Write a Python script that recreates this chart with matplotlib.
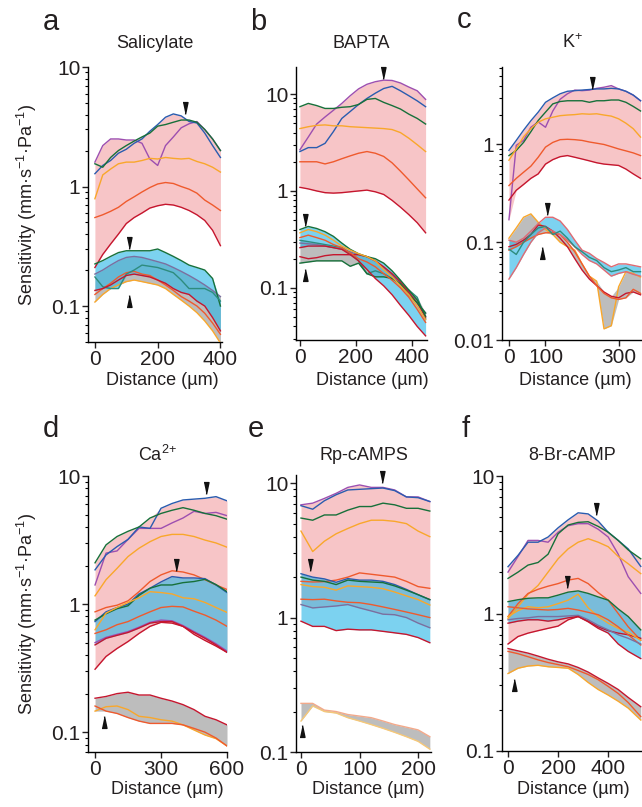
import numpy as np
import matplotlib.pyplot as plt
from matplotlib.ticker import FixedLocator, LogLocator, NullFormatter, FuncFormatter

plt.rcParams['font.family'] = ['Liberation Sans', 'DejaVu Sans']
plt.rcParams['mathtext.default'] = 'regular'

PURPLE = '#9d4fb0'
BLUE = '#2a5caf'
GREEN = '#17703a'
ORANGE = '#f9a72b'
ORANGERED = '#ef5a2d'
RED = '#c5162e'
GRAPE = '#7b6f9f'
TEAL = '#2e8c7e'
SALMON = '#e06a72'
PALE_ORANGE = '#f3a98a'
PALE_YELLOW = '#f6c878'

PINK = '#f7c5c7'
GREY = '#bdbdbd'
CYAN = '#2cb7e7'

# ---------------- a: Salicylate ----------------
a_x = [0, 25, 50, 75, 100, 125, 150, 175, 200, 225, 250, 275, 300, 325, 350, 375, 400]
a_purple = [1.6, 2.2, 2.5, 2.5, 2.45, 2.45, 2.3, 1.7, 1.5, 2.2, 2.6, 3.1, 3.35, 3.5, 3.0, 2.5, 2.0]
a_blue = [1.28, 1.5, 1.65, 1.9, 2.05, 2.3, 2.5, 2.9, 3.3, 3.8, 4.05, 3.9, 3.5, 3.4, 2.8, 2.2, 1.75]
a_green = [1.55, 1.45, 1.75, 2.0, 2.2, 2.4, 2.6, 2.8, 3.2, 3.3, 3.45, 3.6, 3.6, 3.45, 3.0, 2.5, 2.0]
a_orange = [0.79, 1.25, 1.4, 1.55, 1.6, 1.6, 1.65, 1.72, 1.7, 1.75, 1.72, 1.7, 1.72, 1.62, 1.55, 1.45, 1.32]
a_orangered = [0.55, 0.58, 0.62, 0.67, 0.75, 0.82, 0.9, 0.98, 1.05, 1.08, 1.06, 1.0, 0.95, 0.88, 0.77, 0.7, 0.63]
a_red = [0.21, 0.27, 0.33, 0.4, 0.49, 0.55, 0.6, 0.66, 0.69, 0.71, 0.7, 0.67, 0.63, 0.58, 0.52, 0.43, 0.32]
a_c_green = [0.225, 0.24, 0.26, 0.28, 0.29, 0.29, 0.29, 0.29, 0.3, 0.28, 0.26, 0.24, 0.22, 0.21, 0.2, 0.17, 0.1]
a_c_teal = [0.175, 0.145, 0.14, 0.14, 0.185, 0.2, 0.22, 0.215, 0.21, 0.2, 0.19, 0.165, 0.14, 0.14, 0.14, 0.13, 0.11]
a_c_red = [0.135, 0.14, 0.15, 0.165, 0.18, 0.185, 0.18, 0.175, 0.165, 0.155, 0.14, 0.13, 0.125, 0.11, 0.1, 0.08, 0.062]
a_g_grape = [0.185, 0.2, 0.22, 0.24, 0.255, 0.26, 0.255, 0.245, 0.235, 0.225, 0.21, 0.195, 0.18, 0.165, 0.15, 0.135, 0.12]
a_g_orangered = [0.125, 0.14, 0.155, 0.175, 0.19, 0.195, 0.185, 0.18, 0.165, 0.15, 0.135, 0.12, 0.11, 0.1, 0.087, 0.072, 0.058]
a_g_orange = [0.108, 0.125, 0.14, 0.15, 0.16, 0.165, 0.16, 0.155, 0.15, 0.14, 0.125, 0.112, 0.1, 0.088, 0.075, 0.062, 0.049]
a_down = ([286, 108], [4.5, 0.34])
a_up = ([108], [0.11])

# ---------------- b: BAPTA ----------------
b_x = [0, 30, 60, 90, 120, 150, 180, 210, 240, 270, 300, 330, 360, 390, 420, 450]
b_purple = [2.66, 3.6, 4.9, 5.8, 6.8, 8.0, 9.6, 11.3, 12.6, 13.4, 13.9, 13.8, 13.0, 11.8, 10.8, 8.8]
b_blue = [2.55, 2.8, 2.8, 3.1, 4.1, 5.6, 6.6, 7.8, 9.0, 10.2, 11.4, 12.0, 10.8, 9.6, 8.5, 7.4]
b_green = [7.4, 8.0, 7.6, 7.1, 7.1, 7.3, 7.4, 7.8, 8.8, 9.0, 8.2, 7.6, 7.0, 6.2, 5.6, 4.9]
b_orange = [4.4, 4.6, 4.75, 4.8, 4.7, 4.7, 4.6, 4.55, 4.5, 4.45, 4.4, 4.3, 4.0, 3.5, 3.0, 2.55]
b_orangered = [2.0, 2.0, 2.0, 1.9, 2.0, 2.15, 2.3, 2.45, 2.55, 2.45, 2.27, 1.95, 1.6, 1.3, 1.05, 0.85]
b_red = [1.09, 1.05, 1.0, 0.96, 0.95, 0.96, 0.98, 1.0, 1.02, 0.98, 0.92, 0.8, 0.68, 0.57, 0.47, 0.37]
b_c_green = [0.40, 0.43, 0.41, 0.38, 0.34, 0.29, 0.25, 0.225, 0.21, 0.2, 0.18, 0.15, 0.12, 0.095, 0.075, 0.051]
b_c_orange = [0.37, 0.4, 0.38, 0.35, 0.31, 0.27, 0.245, 0.225, 0.21, 0.19, 0.155, 0.13, 0.105, 0.085, 0.065, 0.047]
b_c_orangered = [0.33, 0.35, 0.33, 0.31, 0.28, 0.26, 0.23, 0.2, 0.185, 0.165, 0.14, 0.12, 0.1, 0.08, 0.06, 0.044]
b_c_red = [0.26, 0.27, 0.27, 0.27, 0.26, 0.25, 0.22, 0.19, 0.155, 0.125, 0.105, 0.085, 0.066, 0.052, 0.04, 0.032]
b_g_grape = [0.29, 0.285, 0.28, 0.27, 0.26, 0.25, 0.235, 0.22, 0.21, 0.19, 0.16, 0.135, 0.11, 0.09, 0.07, 0.055]
b_g_teal = [0.31, 0.3, 0.29, 0.28, 0.27, 0.26, 0.23, 0.19, 0.14, 0.15, 0.14, 0.125, 0.11, 0.095, 0.08, 0.048]
b_g_red = [0.21, 0.2, 0.205, 0.215, 0.22, 0.22, 0.22, 0.22, 0.21, 0.19, 0.165, 0.14, 0.115, 0.09, 0.07, 0.05]
b_g_green = [0.18, 0.185, 0.19, 0.19, 0.19, 0.19, 0.167, 0.18, 0.14, 0.13, 0.13, 0.125, 0.11, 0.085, 0.07, 0.055]
b_down = ([296, 18], [16.6, 0.5])
b_up = ([18], [0.137])

# ---------------- c: K+ ----------------
c_x = [0, 20, 40, 60, 80, 100, 120, 140, 160, 180, 200, 220, 240, 260, 280, 300, 320, 340, 360]
c_blue = [0.87, 1.1, 1.4, 1.75, 2.14, 2.7, 3.0, 3.3, 3.5, 3.55, 3.6, 3.65, 3.7, 3.7, 3.75, 3.7, 3.5, 3.2, 2.8]
c_purple = [0.17, 0.98, 1.1, 1.5, 1.7, 1.5, 2.2, 2.9, 3.3, 3.6, 3.55, 3.6, 3.75, 3.85, 4.0, 3.7, 3.5, 3.2, 2.8]
c_green = [0.77, 0.87, 1.05, 1.35, 1.76, 2.14, 2.6, 2.75, 2.8, 2.8, 2.8, 2.7, 2.8, 2.8, 2.85, 2.85, 2.7, 2.45, 2.2]
c_orange = [0.69, 0.9, 1.2, 1.45, 1.69, 1.83, 1.9, 1.97, 2.0, 2.02, 2.06, 2.04, 2.06, 2.0, 1.95, 1.83, 1.65, 1.45, 1.19]
c_orangered = [0.38, 0.45, 0.52, 0.6, 0.74, 0.94, 1.05, 1.12, 1.13, 1.12, 1.1, 1.06, 1.03, 1.0, 0.95, 0.9, 0.86, 0.82, 0.77]
c_red = [0.27, 0.34, 0.39, 0.45, 0.5, 0.63, 0.7, 0.75, 0.77, 0.74, 0.71, 0.68, 0.65, 0.63, 0.62, 0.61, 0.56, 0.5, 0.45]
c_c_salmon_hi = [0.105, 0.1, 0.11, 0.13, 0.155, 0.18, 0.18, 0.165, 0.135, 0.105, 0.083, 0.077, 0.068, 0.062, 0.056, 0.06, 0.06, 0.058, 0.056]
c_c_salmon_lo = [0.042, 0.055, 0.075, 0.1, 0.125, 0.14, 0.13, 0.12, 0.105, 0.09, 0.075, 0.065, 0.06, 0.052, 0.045, 0.048, 0.05, 0.047, 0.045]
c_c_teal = [0.085, 0.075, 0.1, 0.12, 0.14, 0.145, 0.12, 0.13, 0.11, 0.09, 0.08, 0.07, 0.065, 0.055, 0.05, 0.052, 0.055, 0.05, 0.05]
c_g_orange = [0.11, 0.14, 0.18, 0.195, 0.16, 0.135, 0.12, 0.1, 0.09, 0.083, 0.06, 0.045, 0.04, 0.013, 0.014, 0.035, 0.05, 0.048, 0.044]
c_g_red = [0.09, 0.095, 0.105, 0.12, 0.15, 0.145, 0.13, 0.11, 0.09, 0.068, 0.052, 0.042, 0.036, 0.031, 0.028, 0.027, 0.03, 0.031, 0.029]
c_g_orangered = [0.083, 0.09, 0.1, 0.11, 0.12, 0.125, 0.125, 0.12, 0.1, 0.08, 0.06, 0.045, 0.036, 0.03, 0.027, 0.026, 0.027, 0.033, 0.03]
c_down = ([227, 103], [4.3, 0.22])
c_up = ([91], [0.077])

# ---------------- d: Ca2+ ----------------
d_x = [0, 50, 100, 150, 200, 250, 300, 350, 400, 450, 500, 550, 600]
d_blue = [1.85, 2.42, 2.81, 3.2, 4.0, 3.9, 5.6, 6.1, 6.5, 6.6, 6.7, 6.9, 6.4]
d_green = [2.1, 2.9, 3.37, 3.7, 4.0, 4.7, 5.1, 5.4, 5.66, 5.4, 5.1, 4.9, 4.6]
d_purple = [1.41, 2.5, 2.6, 3.2, 3.9, 3.9, 3.9, 4.3, 4.7, 5.3, 5.1, 5.2, 4.9]
d_orange = [1.16, 1.55, 1.9, 2.35, 2.73, 3.07, 3.37, 3.5, 3.5, 3.37, 3.16, 3.0, 2.78]
d_orangered = [0.87, 0.94, 0.98, 1.06, 1.25, 1.5, 1.69, 1.82, 1.78, 1.69, 1.55, 1.41, 1.3]
d_red = [0.31, 0.39, 0.45, 0.51, 0.59, 0.67, 0.72, 0.71, 0.67, 0.58, 0.52, 0.47, 0.42]
d_c_blue = [0.73, 0.87, 0.94, 1.0, 1.2, 1.33, 1.49, 1.64, 1.6, 1.6, 1.58, 1.41, 1.23]
d_c_green = [0.75, 0.84, 0.92, 0.97, 1.17, 1.33, 1.41, 1.41, 1.47, 1.5, 1.56, 1.42, 1.25]
d_c_orange = [0.63, 0.85, 0.94, 1.03, 1.12, 1.25, 1.23, 1.2, 1.12, 1.1, 1.03, 0.94, 0.86]
d_c_orangered = [0.59, 0.63, 0.69, 0.73, 0.8, 0.87, 0.94, 0.96, 0.95, 0.88, 0.82, 0.75, 0.67]
d_c_purple = [0.5, 0.55, 0.58, 0.61, 0.66, 0.72, 0.75, 0.74, 0.68, 0.61, 0.55, 0.49, 0.43]
d_c_red = [0.48, 0.54, 0.57, 0.6, 0.65, 0.71, 0.73, 0.73, 0.67, 0.6, 0.54, 0.48, 0.42]
d_g_red = [0.184, 0.19, 0.2, 0.205, 0.195, 0.195, 0.184, 0.175, 0.164, 0.15, 0.133, 0.125, 0.114]
d_g_orange = [0.146, 0.158, 0.16, 0.15, 0.133, 0.13, 0.125, 0.122, 0.114, 0.104, 0.095, 0.089, 0.078]
d_g_orangered = [0.16, 0.146, 0.14, 0.13, 0.122, 0.117, 0.117, 0.117, 0.114, 0.107, 0.1, 0.09, 0.078]
d_down = ([505, 368], [8.0, 2.02])
d_up = ([43], [0.121])

# ---------------- e: Rp-cAMPS ----------------
e_x = [0, 20, 40, 60, 80, 100, 120, 140, 160, 180, 200, 220]
e_purple = [6.9, 7.1, 7.7, 8.4, 9.3, 9.7, 9.3, 9.3, 8.9, 7.9, 7.9, 7.3]
e_blue = [6.8, 6.4, 7.4, 8.2, 8.9, 9.0, 9.1, 9.2, 8.8, 7.9, 7.8, 7.3]
e_green = [5.5, 5.3, 5.8, 5.8, 6.3, 6.7, 6.7, 7.1, 6.9, 6.5, 6.5, 6.2]
e_orange = [4.4, 3.1, 3.7, 4.2, 4.6, 5.0, 5.3, 5.3, 5.2, 5.0, 4.4, 4.0]
e_orangered = [1.86, 1.84, 1.85, 1.9, 2.0, 2.15, 2.1, 2.05, 2.0, 1.86, 1.7, 1.65]
e_grape = [1.25, 1.18, 1.2, 1.22, 1.25, 1.18, 1.12, 1.06, 1.05, 1.0, 0.91, 0.84]
e_c_blue = [2.12, 2.0, 1.94, 1.83, 1.95, 1.9, 1.9, 1.86, 1.76, 1.62, 1.48, 1.36]
e_c_green = [2.0, 1.9, 1.86, 1.76, 1.9, 1.86, 1.84, 1.82, 1.72, 1.6, 1.48, 1.36]
e_c_orange = [1.76, 1.7, 1.68, 1.6, 1.72, 1.7, 1.68, 1.64, 1.55, 1.45, 1.36, 1.24]
e_c_orangered = [1.37, 1.36, 1.37, 1.33, 1.3, 1.29, 1.25, 1.2, 1.15, 1.1, 1.05, 1.0]
e_c_red = [0.94, 0.86, 0.86, 0.8, 0.82, 0.81, 0.81, 0.79, 0.77, 0.75, 0.71, 0.65]
e_g_top = [0.23, 0.23, 0.205, 0.2, 0.19, 0.185, 0.18, 0.17, 0.16, 0.153, 0.146, 0.13]
e_g_bottom = [0.17, 0.22, 0.2, 0.195, 0.18, 0.17, 0.16, 0.15, 0.14, 0.13, 0.12, 0.105]
e_down = ([139, 15], [11.1, 2.47])
e_up = ([2], [0.143])

# ---------------- f: 8-Br-cAMP ----------------
f_x = [0, 40, 80, 120, 160, 200, 240, 280, 320, 360, 400, 440, 480, 530]
f_blue = [2.19, 2.65, 3.3, 3.3, 3.6, 4.2, 4.8, 5.4, 5.3, 4.7, 3.9, 3.4, 2.95, 2.2]
f_purple = [2.0, 2.6, 3.4, 3.4, 3.3, 3.9, 4.35, 4.5, 4.5, 4.1, 3.6, 2.7, 1.85, 1.4]
f_green = [1.8, 2.0, 2.25, 2.35, 2.7, 3.8, 4.4, 4.6, 4.65, 4.3, 3.9, 3.4, 2.9, 2.5]
f_orange = [0.92, 1.12, 1.38, 1.6, 2.0, 2.5, 2.95, 3.3, 3.5, 3.3, 3.06, 2.6, 2.3, 1.95]
f_orangered = [0.95, 1.18, 1.4, 1.5, 1.58, 1.65, 1.75, 1.8, 1.65, 1.42, 1.25, 1.0, 0.8, 0.64]
f_red = [0.6, 0.68, 0.72, 0.75, 0.78, 0.81, 0.9, 0.95, 0.88, 0.8, 0.75, 0.72, 0.7, 0.66]
f_c_green = [1.22, 1.26, 1.29, 1.3, 1.3, 1.36, 1.43, 1.46, 1.4, 1.32, 1.25, 1.08, 0.95, 0.76]
f_c_orange = [0.95, 1.05, 1.12, 1.1, 1.12, 1.18, 1.25, 1.38, 1.1, 0.95, 0.85, 0.78, 0.73, 0.64]
f_c_orangered = [1.12, 1.1, 1.08, 1.07, 1.06, 1.07, 1.09, 1.06, 1.02, 0.98, 0.9, 0.8, 0.7, 0.59]
f_c_grape = [0.9, 0.92, 0.93, 0.95, 0.95, 0.95, 0.96, 0.97, 0.9, 0.82, 0.76, 0.7, 0.66, 0.6]
f_c_red = [0.85, 0.88, 0.9, 0.9, 0.88, 0.9, 0.93, 0.95, 0.87, 0.78, 0.72, 0.6, 0.53, 0.47]
f_g_red = [0.556, 0.535, 0.515, 0.49, 0.465, 0.445, 0.43, 0.405, 0.375, 0.34, 0.31, 0.28, 0.245, 0.21]
f_g_orangered = [0.53, 0.51, 0.485, 0.46, 0.44, 0.425, 0.41, 0.385, 0.36, 0.33, 0.295, 0.262, 0.225, 0.178]
f_g_orange = [0.366, 0.4, 0.415, 0.42, 0.41, 0.405, 0.4, 0.36, 0.315, 0.28, 0.255, 0.23, 0.205, 0.168]
f_down = ([353, 237], [5.8, 1.7])
f_up = ([23], [0.30])

DOWN = [(-0.42, 1), (0.42, 1), (0, -1)]
UP = [(-0.42, -1), (0.42, -1), (0, 1)]
FILLS = {'pink': (PINK, 1.0, 1), 'grey': (GREY, 1.0, 1.5), 'cyan': (CYAN, 0.62, 2)}


def draw_panel(ax, x, groups, down, up, xlim, ylim, xticks, yticks):
    x = np.asarray(x, dtype=float)
    for kind, lines in groups:
        ys = np.array([v for _, v in lines])
        color, alpha, z = FILLS[kind]
        ax.fill_between(x, ys.min(axis=0), ys.max(axis=0), color=color,
                        alpha=alpha, lw=0, zorder=z)
    for kind, lines in groups:
        for c, v in lines:
            ax.plot(x, v, color=c, lw=1.0, zorder=3, solid_joinstyle='round')
    # arrowheads mark the peaks, keep them whole even near the frame
    ax.plot(down[0], down[1], ls='none', marker=DOWN, ms=8.5, color='#111111',
            zorder=5, clip_on=False)
    ax.plot(up[0], up[1], ls='none', marker=UP, ms=8.5, color='#111111',
            zorder=5, clip_on=False)

    ax.set_yscale('log')
    ax.set_xlim(*xlim)
    ax.set_ylim(*ylim)
    ax.set_xticks(xticks)
    ax.yaxis.set_major_locator(FixedLocator(yticks))
    ax.yaxis.set_major_formatter(FuncFormatter(lambda v, p: '%g' % v))
    ax.yaxis.set_minor_locator(LogLocator(base=10, subs=np.arange(2, 10)))
    ax.yaxis.set_minor_formatter(NullFormatter())
    for s in ('top', 'right'):
        ax.spines[s].set_visible(False)
    for s in ('left', 'bottom'):
        ax.spines[s].set_linewidth(1.0)
    ax.tick_params(which='major', direction='out', length=4, width=1.0,
                   labelsize=15, pad=1.5, colors='#231f20')
    ax.tick_params(which='minor', direction='out', length=2.5, width=0.8)
    ax.patch.set_alpha(0)


fig = plt.figure(figsize=(6.42, 8.07), dpi=100)
W, H = 642.0, 807.0


def add_axes(left, top, right, bottom):
    return fig.add_axes([left / W, 1 - bottom / H, (right - left) / W, (bottom - top) / H])


panels = [
    dict(box=(88, 67, 222, 342), x=a_x, xlim=(-22, 405), ylim=(0.05, 10), xticks=[0, 200, 400],
         yticks=[0.1, 1, 10], down=a_down, up=a_up,
         groups=[('pink', [(PURPLE, a_purple), (BLUE, a_blue), (GREEN, a_green), (ORANGE, a_orange),
                           (ORANGERED, a_orangered), (RED, a_red)]),
                 ('grey', [(GRAPE, a_g_grape), (ORANGERED, a_g_orangered), (ORANGE, a_g_orange)]),
                 ('cyan', [(GREEN, a_c_green), (TEAL, a_c_teal), (RED, a_c_red)])]),
    dict(box=(296, 67, 427, 340), x=b_x, xlim=(-14, 455), ylim=(0.029, 19), xticks=[0, 200, 400],
         yticks=[0.1, 1, 10], down=b_down, up=b_up,
         groups=[('pink', [(PURPLE, b_purple), (BLUE, b_blue), (GREEN, b_green), (ORANGE, b_orange),
                           (ORANGERED, b_orangered), (RED, b_red)]),
                 ('grey', [(GRAPE, b_g_grape), (TEAL, b_g_teal), (RED, b_g_red), (GREEN, b_g_green)]),
                 ('cyan', [(GREEN, b_c_green), (ORANGE, b_c_orange), (ORANGERED, b_c_orangered),
                           (RED, b_c_red)])]),
    dict(box=(502, 67, 642, 340), x=c_x, xlim=(-19, 364), ylim=(0.01, 6.2), xticks=[0, 100, 300],
         yticks=[0.01, 0.1, 1], down=c_down, up=c_up,
         groups=[('pink', [(PURPLE, c_purple), (BLUE, c_blue), (GREEN, c_green), (ORANGE, c_orange),
                           (ORANGERED, c_orangered), (RED, c_red)]),
                 ('grey', [(ORANGE, c_g_orange), (RED, c_g_red), (ORANGERED, c_g_orangered)]),
                 ('cyan', [(SALMON, c_c_salmon_hi), (SALMON, c_c_salmon_lo), (TEAL, c_c_teal)])]),
    dict(box=(88, 476, 227, 752), x=d_x, xlim=(-32, 600), ylim=(0.07, 10), xticks=[0, 300, 600],
         yticks=[0.1, 1, 10], down=d_down, up=d_up,
         groups=[('pink', [(PURPLE, d_purple), (BLUE, d_blue), (GREEN, d_green), (ORANGE, d_orange),
                           (ORANGERED, d_orangered), (RED, d_red)]),
                 ('grey', [(RED, d_g_red), (ORANGE, d_g_orange), (ORANGERED, d_g_orangered)]),
                 ('cyan', [(BLUE, d_c_blue), (GREEN, d_c_green), (ORANGE, d_c_orange),
                           (ORANGERED, d_c_orangered), (PURPLE, d_c_purple), (RED, d_c_red)])]),
    dict(box=(296, 475, 431, 752), x=e_x, xlim=(-8.5, 222), ylim=(0.1, 11.5), xticks=[0, 100, 200],
         yticks=[0.1, 1, 10], down=e_down, up=e_up,
         groups=[('pink', [(PURPLE, e_purple), (BLUE, e_blue), (GREEN, e_green), (ORANGE, e_orange),
                           (ORANGERED, e_orangered), (GRAPE, e_grape)]),
                 ('grey', [(PALE_ORANGE, e_g_top), (PALE_YELLOW, e_g_bottom)]),
                 ('cyan', [(BLUE, e_c_blue), (GREEN, e_c_green), (ORANGE, e_c_orange),
                           (ORANGERED, e_c_orangered), (RED, e_c_red)])]),
    dict(box=(502, 476, 642, 751), x=f_x, xlim=(-24, 535), ylim=(0.1, 10), xticks=[0, 200, 400],
         yticks=[0.1, 1, 10], down=f_down, up=f_up,
         groups=[('pink', [(PURPLE, f_purple), (BLUE, f_blue), (GREEN, f_green), (ORANGE, f_orange),
                           (ORANGERED, f_orangered), (RED, f_red)]),
                 ('grey', [(RED, f_g_red), (ORANGERED, f_g_orangered), (ORANGE, f_g_orange)]),
                 ('cyan', [(GREEN, f_c_green), (ORANGE, f_c_orange), (ORANGERED, f_c_orangered),
                           (GRAPE, f_c_grape), (RED, f_c_red)])]),
]

letters = ['a', 'b', 'c', 'd', 'e', 'f']
letter_pos = [(43, 30), (250, 30), (457, 28), (43, 437), (248, 437), (462, 437)]
titles = ['Salicylate', 'BAPTA', 'K$^{{+}}$', 'Ca$^{2{+}}$', 'Rp-cAMPS', '8-Br-cAMP']
title_y = [43, 43, 43, 455, 455, 455]
xlabel_pos = [(162, 380), (372, 380), (575, 380), (167, 790), (368, 790), (573, 790)]

for i, p in enumerate(panels):
    left, top, right, bottom = p['box']
    ax = add_axes(left, top, right, bottom)
    draw_panel(ax, p['x'], p['groups'], p['down'], p['up'], p['xlim'], p['ylim'],
               p['xticks'], p['yticks'])
    fig.text(letter_pos[i][0] / W, 1 - letter_pos[i][1] / H, letters[i], fontsize=21,
             ha='left', va='baseline', color='#231f20')
    fig.text((left + right) / 2 / W, 1 - title_y[i] / H, titles[i], fontsize=13,
             ha='center', va='center', color='#231f20')
    fig.text(xlabel_pos[i][0] / W, 1 - xlabel_pos[i][1] / H, 'Distance (µm)', fontsize=13,
             ha='center', va='center', color='#231f20')

for yc in (205, 614):
    fig.text(27 / W, 1 - yc / H, 'Sensitivity (mm·s$^{-1}$·Pa$^{-1}$)', fontsize=13,
             rotation=90, ha='center', va='center', color='#231f20')

fig.savefig('out.png', dpi=100)
